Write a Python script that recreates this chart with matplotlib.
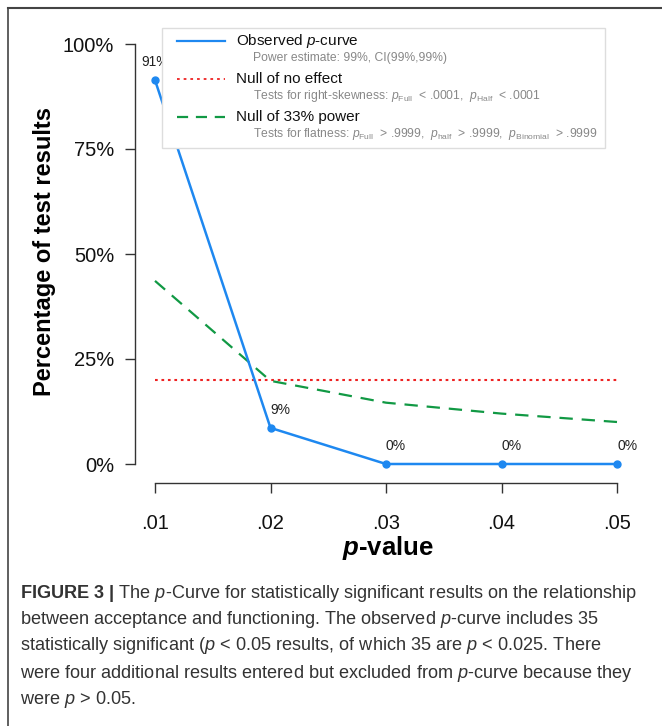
import matplotlib
matplotlib.use("Agg")
import matplotlib.pyplot as plt
from matplotlib.lines import Line2D

plt.rcParams['font.family'] = ['Liberation Sans', 'DejaVu Sans']
plt.rcParams['mathtext.fontset'] = 'custom'
plt.rcParams['mathtext.rm'] = 'Liberation Sans'
plt.rcParams['mathtext.it'] = 'Liberation Sans:italic'
plt.rcParams['mathtext.bf'] = 'Liberation Sans:bold'
plt.rcParams['mathtext.bfit'] = 'Liberation Sans:italic:bold'

# data
pvals = [0.01, 0.02, 0.03, 0.04, 0.05]
observed = [91.4, 8.6, 0.0, 0.0, 0.0]
obs_labels = ["91%", "9%", "0%", "0%", "0%"]
null_effect = [20, 20, 20, 20, 20]
null_33 = [43.6, 19.8, 14.6, 12.0, 10.0]
xtick_labels = [".01", ".02", ".03", ".04", ".05"]
ytick_vals = [0, 25, 50, 75, 100]
ytick_labels = ["0%", "25%", "50%", "75%", "100%"]

W, H = 662, 726
fig = plt.figure(figsize=(W / 100, H / 100), dpi=100)

# axes placed in pixel terms
ax_l, ax_r, ax_t, ax_b = 135, 640, 20, 483
ax = fig.add_axes([ax_l / W, 1 - ax_b / H, (ax_r - ax_l) / W, (ax_b - ax_t) / H])
px_x = (617 - 155) / 0.04
ax.set_xlim(0.01 - (155 - ax_l) / px_x, 0.05 + (ax_r - 617) / px_x)
px_y = (464 - 44) / 100
ax.set_ylim(-(ax_b - 464) / px_y, 100 + (44 - ax_t) / px_y)

blue = "#1e88f0"
red = "#ee2222"
green = "#119944"

ax.plot(pvals, null_effect, color=red, lw=1.5, ls=(0, (1.3, 1.8)))
ax.plot(pvals, null_33, color=green, lw=1.6, ls=(0, (6, 4)))
ax.plot(pvals, observed, color=blue, lw=1.8, marker="o", ms=5)

for i in range(len(pvals)):
    ax.text(pvals[i], observed[i] + 2.6, obs_labels[i], fontsize=10,
            color="#222222", ha="left" if i > 0 else "center", va="bottom")

for s in ["top", "right"]:
    ax.spines[s].set_visible(False)
ax.spines["left"].set_bounds(0, 100)
ax.spines["bottom"].set_bounds(0.01, 0.05)
for s in ["left", "bottom"]:
    ax.spines[s].set_color("#333333")
    ax.spines[s].set_linewidth(1.0)
ax.set_xticks(pvals)
ax.set_xticklabels(xtick_labels)
ax.set_yticks(ytick_vals)
ax.set_yticklabels(ytick_labels)
ax.tick_params(axis="both", direction="out", length=7, width=1.0,
               color="#333333", labelsize=14.5, labelcolor="#111111")
ax.tick_params(axis="x", pad=15)
ax.tick_params(axis="y", pad=8)
ax.set_xlabel(r"$\mathbfit{p}$-value", fontsize=18.5, fontweight="bold", labelpad=1)
ax.set_ylabel("Percentage of test results", fontsize=17, fontweight="bold", labelpad=5)

# legend box drawn by hand
box = plt.Rectangle((162 / W, 1 - 148 / H), (605 - 162) / W, (148 - 28) / H,
                    transform=fig.transFigure, fill=True, facecolor="white",
                    edgecolor="#dddddd", lw=1.0, zorder=5)
fig.add_artist(box)
entries = [
    ("Observed $\\it{p}$-curve", "Power estimate: 99%, CI(99%,99%)",
     dict(color=blue, lw=1.6, ls="-")),
    ("Null of no effect",
     "Tests for right-skewness: $\\it{p}_{\\rm Full}$  < .0001,  $\\it{p}_{\\rm Half}$  < .0001",
     dict(color=red, lw=1.3, ls=(0, (1.5, 2.2)))),
    ("Null of 33% power",
     "Tests for flatness: $\\it{p}_{\\rm Full}$  > .9999,  $\\it{p}_{\\rm half}$  > .9999,  $\\it{p}_{\\rm Binomial}$  > .9999",
     dict(color=green, lw=1.6, ls=(0, (5, 3.5)))),
]
ys = [41, 79, 117]
for (main, sub, style), y in zip(entries, ys):
    fig.add_artist(Line2D([177 / W, 225 / W], [1 - y / H, 1 - y / H],
                          transform=fig.transFigure, zorder=6, **style))
    fig.text(236 / W, 1 - y / H, main, fontsize=11, color="#111111",
             va="center", ha="left", zorder=6)
    fig.text(253 / W, 1 - (y + 17) / H, sub, fontsize=8.7, color="#888888",
             va="center", ha="left", zorder=6)

# outer frame (top and left)
fig.add_artist(Line2D([8 / W, 1], [1 - 8 / H, 1 - 8 / H], transform=fig.transFigure,
                      color="#444444", lw=1.5))
fig.add_artist(Line2D([8 / W, 8 / W], [0, 1 - 8 / H], transform=fig.transFigure,
                      color="#444444", lw=1.2))

caption = [
    r"$\bf{FIGURE\ 3\ |}$ The $\it{p}$-Curve for statistically significant results on the relationship",
    r"between acceptance and functioning. The observed $\it{p}$-curve includes 35",
    r"statistically significant ($\it{p}$ < 0.05 results, of which 35 are $\it{p}$ < 0.025. There",
    r"were four additional results entered but excluded from $\it{p}$-curve because they",
    r"were $\it{p}$ > 0.05.",
]
cy = [593, 620, 646, 673, 699]
for line, y in zip(caption, cy):
    fig.text(20 / W, 1 - y / H, line, fontsize=13.1, color="#333333",
             va="center", ha="left")

fig.savefig("out.png", dpi=100)
